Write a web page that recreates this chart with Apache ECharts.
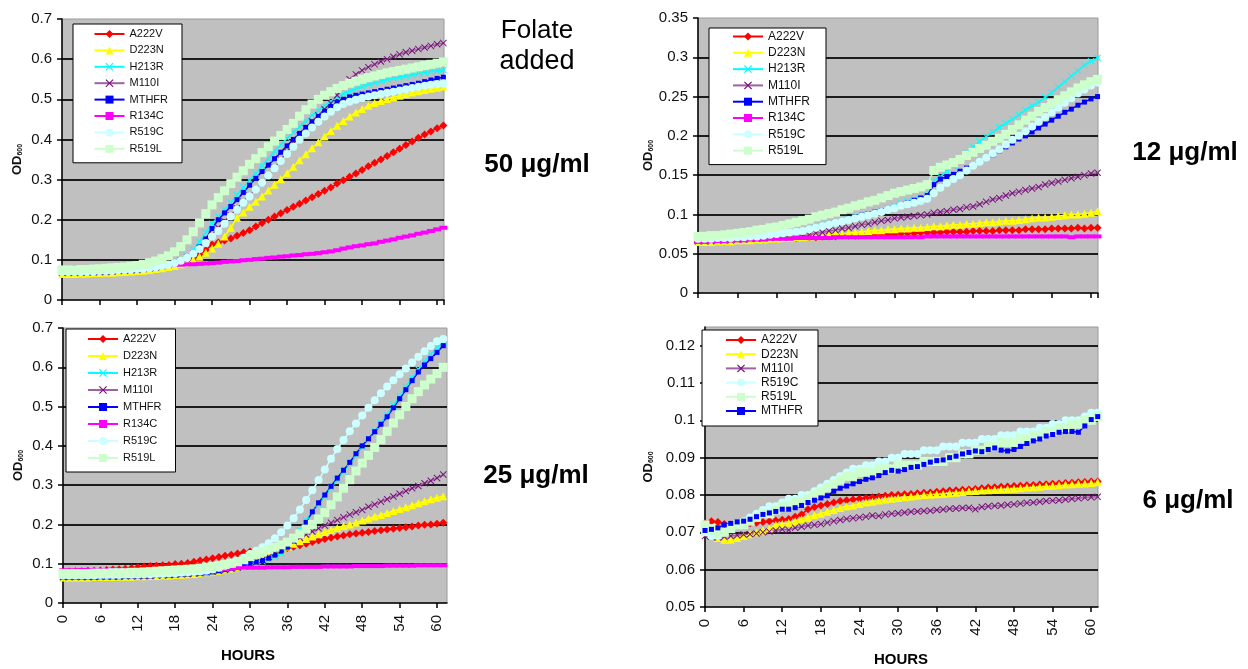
<!DOCTYPE html>
<html><head><meta charset="utf-8">
<script src="https://cdn.jsdelivr.net/npm/echarts@6/dist/echarts.min.js"></script>
<style>html,body{margin:0;padding:0;background:#fff;}#c{width:1248px;height:669px;}</style>
</head><body><div id="c"></div>
<script>
// ---------- DATA ----------
const hours = [0,1,2,3,4,5,6,7,8,9,10,11,12,13,14,15,16,17,18,19,20,21,22,23,24,25,26,27,28,29,30,31,32,33,34,35,36,37,38,39,40,41,42,43,44,45,46,47,48,49,50,51,52,53,54,55,56,57,58,59,60,61];
const namesMain = ['A222V','D223N','H213R','M110I','MTHFR','R134C','R519C','R519L'];
const names6 = ['A222V','D223N','M110I','R519C','R519L','MTHFR'];
const panelTitles = ['50 μg/ml','25 μg/ml','12 μg/ml','6 μg/ml'];

// 50 ug/ml (top left)
const tl_A222V = [0.070,0.070,0.070,0.071,0.071,0.072,0.072,0.073,0.074,0.075,0.076, 0.077,0.078,0.079,0.080,0.082,0.084,0.087,0.090,0.094,0.099, 0.105,0.113,0.124,0.138,0.143,0.148,0.153,0.160,0.167,0.174, 0.183,0.192,0.200,0.208,0.216,0.224,0.232,0.240,0.248,0.256, 0.264,0.272,0.280,0.290,0.298,0.307,0.315,0.324,0.333,0.342, 0.350,0.359,0.368,0.377,0.386,0.395,0.404,0.412,0.420,0.428,0.435];
const tl_D223N = [0.065,0.065,0.065,0.066,0.066,0.067,0.067,0.068,0.068,0.069,0.070, 0.071,0.072,0.073,0.075,0.077,0.079,0.082,0.085,0.089,0.094, 0.100,0.108,0.118,0.128,0.140,0.158,0.180,0.205,0.218,0.232, 0.245,0.258,0.273,0.287,0.301,0.316,0.332,0.348,0.363,0.378, 0.393,0.407,0.421,0.434,0.446,0.457,0.467,0.476,0.484,0.491, 0.496,0.501,0.505,0.509,0.513,0.517,0.520,0.523,0.526,0.529,0.532];
const tl_H213R = [0.068,0.068,0.068,0.069,0.069,0.070,0.070,0.071,0.072,0.073,0.074, 0.075,0.076,0.078,0.080,0.082,0.085,0.089,0.094,0.100,0.110, 0.125,0.145,0.168,0.190,0.208,0.225,0.243,0.262,0.280,0.298, 0.316,0.334,0.352,0.370,0.387,0.403,0.418,0.432,0.446,0.460, 0.472,0.484,0.495,0.505,0.513,0.520,0.526,0.532,0.537,0.541, 0.545,0.549,0.552,0.555,0.558,0.561,0.564,0.567,0.569,0.571,0.573];
const tl_M110I = [0.068,0.068,0.068,0.068,0.069,0.069,0.070,0.070,0.071,0.072,0.073, 0.074,0.075,0.077,0.079,0.081,0.084,0.088,0.093,0.099,0.106, 0.115,0.128,0.145,0.163,0.180,0.196,0.211,0.228,0.245,0.260, 0.276,0.292,0.310,0.330,0.350,0.370,0.390,0.410,0.428,0.445, 0.460,0.475,0.490,0.510,0.535,0.550,0.562,0.572,0.580,0.587, 0.594,0.600,0.606,0.612,0.617,0.621,0.625,0.629,0.633,0.637,0.640];
const tl_MTHFR = [0.068,0.068,0.068,0.068,0.069,0.069,0.070,0.070,0.071,0.072,0.073, 0.074,0.075,0.077,0.079,0.081,0.084,0.088,0.093,0.099,0.107, 0.117,0.132,0.152,0.178,0.200,0.217,0.233,0.250,0.268,0.286, 0.303,0.320,0.336,0.352,0.368,0.384,0.400,0.415,0.430,0.444, 0.457,0.470,0.482,0.492,0.500,0.506,0.510,0.513,0.516,0.519, 0.522,0.525,0.528,0.531,0.534,0.537,0.540,0.544,0.548,0.552,0.555];
const tl_R134C = [0.080,0.080,0.081,0.081,0.082,0.082,0.083,0.083,0.084,0.084,0.085, 0.085,0.085,0.086,0.086,0.086,0.087,0.087,0.088,0.088,0.089, 0.089,0.090,0.091,0.092,0.093,0.095,0.096,0.097,0.099,0.100, 0.102,0.103,0.105,0.106,0.108,0.109,0.111,0.112,0.114,0.115, 0.117,0.119,0.121,0.124,0.128,0.131,0.134,0.136,0.139,0.141, 0.145,0.148,0.151,0.155,0.158,0.161,0.165,0.168,0.172,0.176,0.180];
const tl_R519C = [0.070,0.070,0.070,0.070,0.071,0.071,0.072,0.072,0.073,0.074,0.075, 0.076,0.077,0.078,0.080,0.082,0.085,0.088,0.092,0.098,0.105, 0.115,0.127,0.142,0.158,0.172,0.190,0.208,0.225,0.242,0.258, 0.275,0.292,0.310,0.328,0.346,0.364,0.382,0.399,0.415,0.430, 0.444,0.457,0.469,0.480,0.488,0.494,0.499,0.503,0.507,0.510, 0.513,0.516,0.519,0.522,0.525,0.528,0.531,0.534,0.536,0.538,0.540];
const tl_R519L = [0.075,0.075,0.075,0.076,0.076,0.077,0.078,0.079,0.080,0.081,0.082, 0.084,0.086,0.089,0.093,0.097,0.103,0.110,0.120,0.133,0.150, 0.170,0.192,0.215,0.237,0.255,0.272,0.290,0.306,0.322,0.338, 0.352,0.367,0.382,0.396,0.410,0.425,0.440,0.458,0.474,0.488, 0.500,0.510,0.519,0.527,0.534,0.540,0.545,0.550,0.554,0.558, 0.562,0.566,0.569,0.572,0.575,0.578,0.581,0.584,0.587,0.590,0.593];

// 25 ug/ml (bottom left)
const bl_A222V = [0.080,0.080,0.081,0.081,0.082,0.082,0.083,0.084,0.085,0.086,0.087, 0.089,0.091,0.093,0.094,0.095,0.096,0.097,0.099,0.100,0.102, 0.105,0.108,0.111,0.114,0.117,0.120,0.123,0.126,0.129,0.131, 0.132,0.133,0.134,0.136,0.138,0.140,0.143,0.147,0.151,0.155, 0.159,0.163,0.166,0.169,0.172,0.175,0.177,0.179,0.181,0.183, 0.185,0.187,0.189,0.191,0.193,0.195,0.197,0.199,0.200,0.202,0.204];
const bl_D223N = [0.065,0.065,0.065,0.065,0.065,0.066,0.066,0.066,0.066,0.067,0.067, 0.067,0.068,0.068,0.069,0.069,0.070,0.070,0.071,0.072,0.073, 0.074,0.076,0.078,0.080,0.082,0.085,0.088,0.091,0.095,0.100, 0.106,0.113,0.120,0.128,0.136,0.144,0.151,0.157,0.163,0.169, 0.175,0.181,0.186,0.191,0.196,0.200,0.205,0.210,0.215,0.220, 0.224,0.229,0.234,0.239,0.244,0.249,0.254,0.259,0.264,0.268,0.272];
const bl_H213R = [0.066,0.066,0.066,0.066,0.066,0.066,0.067,0.067,0.067,0.067,0.068, 0.068,0.068,0.069,0.069,0.070,0.070,0.071,0.072,0.073,0.074, 0.075,0.076,0.078,0.080,0.082,0.084,0.087,0.090,0.094,0.098, 0.102,0.106,0.111,0.118,0.126,0.145,0.162,0.185,0.210,0.233, 0.252,0.272,0.293,0.314,0.335,0.356,0.377,0.398,0.418,0.438, 0.458,0.480,0.503,0.526,0.550,0.573,0.595,0.615,0.633,0.650,0.665];
const bl_M110I = [0.066,0.066,0.066,0.066,0.066,0.066,0.067,0.067,0.067,0.067,0.068, 0.068,0.068,0.069,0.069,0.070,0.070,0.071,0.072,0.073,0.074, 0.075,0.076,0.078,0.080,0.082,0.084,0.087,0.090,0.094,0.100, 0.105,0.110,0.118,0.127,0.137,0.147,0.157,0.166,0.174,0.182, 0.190,0.197,0.204,0.211,0.218,0.225,0.231,0.237,0.245,0.251, 0.258,0.264,0.271,0.278,0.285,0.292,0.298,0.305,0.311,0.318,0.327];
const bl_MTHFR = [0.066,0.066,0.066,0.066,0.066,0.066,0.067,0.067,0.067,0.067,0.068, 0.068,0.068,0.069,0.069,0.070,0.070,0.071,0.072,0.073,0.074, 0.075,0.076,0.077,0.079,0.082,0.085,0.089,0.093,0.097,0.101, 0.104,0.108,0.114,0.122,0.132,0.142,0.158,0.178,0.205,0.232, 0.255,0.275,0.297,0.318,0.338,0.358,0.380,0.400,0.418,0.436, 0.455,0.474,0.497,0.520,0.543,0.566,0.588,0.606,0.622,0.638,0.655];
const bl_R134C = [0.083,0.083,0.083,0.084,0.084,0.084,0.084,0.084,0.085,0.085,0.085, 0.085,0.085,0.085,0.085,0.085,0.085,0.085,0.085,0.085,0.085, 0.085,0.085,0.085,0.086,0.086,0.086,0.088,0.089,0.090,0.090, 0.090,0.090,0.091,0.091,0.091,0.091,0.092,0.092,0.092,0.092, 0.092,0.093,0.093,0.093,0.093,0.093,0.094,0.094,0.094,0.094, 0.094,0.095,0.095,0.095,0.095,0.095,0.096,0.096,0.096,0.096,0.096];
const bl_R519C = [0.070,0.070,0.070,0.070,0.070,0.070,0.071,0.071,0.071,0.071,0.072, 0.072,0.072,0.073,0.073,0.074,0.074,0.075,0.076,0.077,0.078, 0.079,0.080,0.082,0.085,0.090,0.095,0.100,0.107,0.115,0.125, 0.133,0.142,0.152,0.165,0.180,0.197,0.216,0.238,0.262,0.287, 0.313,0.340,0.367,0.392,0.415,0.437,0.457,0.477,0.497,0.516, 0.534,0.551,0.567,0.582,0.597,0.612,0.627,0.641,0.654,0.666,0.672];
const bl_R519L = [0.075,0.075,0.075,0.075,0.075,0.076,0.076,0.076,0.077,0.077,0.077, 0.078,0.078,0.079,0.080,0.081,0.082,0.083,0.084,0.085,0.086, 0.087,0.089,0.091,0.093,0.095,0.098,0.101,0.105,0.110,0.118, 0.124,0.130,0.136,0.142,0.148,0.155,0.165,0.176,0.188,0.200, 0.214,0.230,0.250,0.270,0.292,0.314,0.336,0.356,0.376,0.396, 0.416,0.437,0.458,0.479,0.500,0.520,0.538,0.555,0.570,0.584,0.600];

// 12 ug/ml (top right)
const tr_A222V = [0.065,0.065,0.066,0.066,0.066,0.067,0.067,0.067,0.068,0.068,0.068, 0.069,0.069,0.070,0.070,0.070,0.071,0.071,0.071,0.072,0.072, 0.072,0.073,0.073,0.073,0.074,0.074,0.074,0.075,0.075,0.075, 0.076,0.076,0.076,0.077,0.077,0.077,0.077,0.078,0.078,0.078, 0.078,0.079,0.079,0.079,0.079,0.080,0.080,0.080,0.080,0.081, 0.081,0.081,0.081,0.082,0.082,0.082,0.082,0.083,0.082,0.083,0.083];
const tr_D223N = [0.065,0.065,0.065,0.066,0.066,0.066,0.067,0.067,0.067,0.068,0.068, 0.069,0.069,0.070,0.070,0.071,0.071,0.072,0.073,0.073,0.074, 0.075,0.075,0.076,0.077,0.078,0.079,0.080,0.080,0.081,0.081, 0.082,0.082,0.083,0.083,0.084,0.085,0.085,0.086,0.087,0.087, 0.088,0.088,0.089,0.090,0.090,0.091,0.092,0.092,0.093,0.094, 0.095,0.096,0.096,0.097,0.098,0.099,0.100,0.100,0.101,0.102,0.104];
const tr_H213R = [0.070,0.070,0.070,0.070,0.071,0.071,0.071,0.072,0.072,0.073,0.073, 0.074,0.075,0.076,0.077,0.078,0.080,0.082,0.084,0.086,0.088, 0.090,0.092,0.094,0.096,0.098,0.100,0.102,0.105,0.108,0.111, 0.114,0.117,0.119,0.121,0.124,0.143,0.148,0.155,0.162,0.170, 0.178,0.186,0.193,0.199,0.205,0.211,0.216,0.221,0.227,0.233, 0.238,0.243,0.249,0.255,0.262,0.269,0.276,0.283,0.290,0.295,0.299];
const tr_M110I = [0.066,0.066,0.066,0.067,0.067,0.067,0.068,0.068,0.069,0.069,0.070, 0.070,0.071,0.071,0.072,0.073,0.073,0.074,0.076,0.077,0.079, 0.080,0.082,0.083,0.085,0.087,0.088,0.090,0.092,0.093,0.095, 0.096,0.097,0.098,0.099,0.100,0.102,0.103,0.104,0.106,0.107, 0.109,0.110,0.113,0.116,0.119,0.121,0.124,0.127,0.129,0.131, 0.133,0.135,0.138,0.140,0.142,0.144,0.146,0.148,0.150,0.152,0.153];
const tr_MTHFR = [0.068,0.068,0.068,0.069,0.069,0.069,0.070,0.070,0.071,0.071,0.072, 0.073,0.074,0.075,0.076,0.077,0.079,0.080,0.082,0.084,0.086, 0.088,0.091,0.094,0.097,0.099,0.101,0.103,0.105,0.107,0.109, 0.112,0.115,0.118,0.121,0.124,0.138,0.145,0.148,0.151,0.155, 0.159,0.163,0.167,0.171,0.176,0.181,0.186,0.191,0.196,0.200, 0.205,0.210,0.215,0.220,0.225,0.230,0.234,0.239,0.243,0.247,0.250];
const tr_R134C = [0.065,0.065,0.066,0.066,0.066,0.067,0.067,0.067,0.068,0.068,0.068, 0.069,0.069,0.069,0.069,0.070,0.070,0.070,0.070,0.070,0.070, 0.071,0.071,0.071,0.071,0.071,0.071,0.071,0.071,0.071,0.071, 0.071,0.071,0.071,0.071,0.072,0.072,0.072,0.072,0.072,0.072, 0.072,0.072,0.072,0.072,0.072,0.072,0.072,0.072,0.072,0.072, 0.072,0.072,0.072,0.072,0.072,0.072,0.071,0.072,0.072,0.072,0.072];
const tr_R519C = [0.069,0.069,0.069,0.070,0.070,0.070,0.071,0.071,0.072,0.072,0.073, 0.074,0.075,0.076,0.077,0.078,0.079,0.081,0.083,0.085,0.087, 0.089,0.091,0.093,0.095,0.097,0.099,0.101,0.103,0.106,0.108, 0.111,0.113,0.115,0.117,0.120,0.127,0.134,0.140,0.145,0.150, 0.156,0.162,0.167,0.172,0.178,0.183,0.189,0.195,0.200,0.206, 0.212,0.218,0.224,0.230,0.236,0.242,0.248,0.254,0.259,0.264,0.268];
const tr_R519L = [0.072,0.072,0.073,0.073,0.074,0.075,0.076,0.077,0.078,0.080,0.081, 0.083,0.084,0.086,0.088,0.090,0.092,0.094,0.097,0.099,0.101, 0.103,0.106,0.108,0.111,0.113,0.116,0.118,0.121,0.124,0.127, 0.129,0.131,0.133,0.135,0.138,0.156,0.160,0.163,0.166,0.170, 0.175,0.179,0.184,0.188,0.193,0.197,0.202,0.208,0.214,0.220, 0.225,0.231,0.236,0.241,0.246,0.251,0.256,0.261,0.265,0.269,0.272];

// 6 ug/ml (bottom right)
const br_A222V = [0.0725,0.0730,0.0728,0.0722,0.0720,0.0720,0.0722,0.0724,0.0726,0.0728,0.0730, 0.0732,0.0734,0.0736,0.0742,0.0748,0.0762,0.0768,0.0772,0.0776,0.0780, 0.0784,0.0786,0.0788,0.0790,0.0792,0.0794,0.0796,0.0798,0.0800,0.0801, 0.0802,0.0803,0.0805,0.0806,0.0807,0.0809,0.0810,0.0812,0.0813,0.0814, 0.0815,0.0816,0.0818,0.0820,0.0821,0.0822,0.0823,0.0824,0.0825,0.0826, 0.0827,0.0828,0.0829,0.0830,0.0831,0.0832,0.0833,0.0834,0.0835,0.0836,0.0836];
const br_D223N = [0.0700,0.0690,0.0685,0.0680,0.0680,0.0685,0.0690,0.0695,0.0700,0.0705,0.0710, 0.0720,0.0722,0.0726,0.0730,0.0735,0.0740,0.0746,0.0750,0.0755,0.0760, 0.0765,0.0770,0.0772,0.0776,0.0780,0.0782,0.0785,0.0788,0.0790,0.0792, 0.0794,0.0796,0.0798,0.0800,0.0801,0.0802,0.0803,0.0805,0.0806,0.0808, 0.0810,0.0811,0.0812,0.0813,0.0814,0.0815,0.0816,0.0817,0.0818,0.0820, 0.0821,0.0822,0.0824,0.0825,0.0826,0.0828,0.0829,0.0830,0.0831,0.0832,0.0834];
const br_M110I = [0.0690,0.0688,0.0686,0.0688,0.0690,0.0692,0.0694,0.0695,0.0697,0.0700,0.0702, 0.0705,0.0708,0.0706,0.0712,0.0715,0.0718,0.0720,0.0722,0.0726,0.0730, 0.0733,0.0736,0.0738,0.0740,0.0742,0.0745,0.0744,0.0748,0.0750,0.0751, 0.0753,0.0755,0.0756,0.0757,0.0758,0.0760,0.0761,0.0763,0.0764,0.0765, 0.0766,0.0762,0.0768,0.0770,0.0771,0.0772,0.0774,0.0775,0.0777,0.0779, 0.0780,0.0782,0.0784,0.0785,0.0786,0.0788,0.0790,0.0791,0.0793,0.0794,0.0795];
const br_R519C = [0.0700,0.0690,0.0690,0.0700,0.0710,0.0720,0.0730,0.0740,0.0750,0.0760,0.0770, 0.0770,0.0780,0.0790,0.0790,0.0800,0.0800,0.0810,0.0820,0.0830,0.0840, 0.0850,0.0860,0.0870,0.0870,0.0880,0.0880,0.0890,0.0890,0.0900,0.0900, 0.0910,0.0910,0.0910,0.0920,0.0920,0.0920,0.0930,0.0930,0.0930,0.0940, 0.0940,0.0940,0.0950,0.0950,0.0950,0.0960,0.0960,0.0960,0.0970,0.0970, 0.0970,0.0980,0.0980,0.0990,0.0990,0.1000,0.1000,0.1000,0.1010,0.1020,0.1020];
const br_R519L = [0.0720,0.0710,0.0700,0.0700,0.0710,0.0720,0.0720,0.0730,0.0740,0.0750,0.0750, 0.0760,0.0770,0.0770,0.0780,0.0780,0.0790,0.0800,0.0810,0.0820,0.0830, 0.0840,0.0850,0.0850,0.0860,0.0860,0.0860,0.0870,0.0870,0.0870,0.0880, 0.0880,0.0880,0.0880,0.0890,0.0890,0.0890,0.0890,0.0900,0.0900,0.0910, 0.0910,0.0920,0.0920,0.0930,0.0930,0.0940,0.0940,0.0940,0.0950,0.0950, 0.0960,0.0960,0.0970,0.0970,0.0980,0.0980,0.0990,0.0990,0.1000,0.1000,0.1010];
const br_MTHFR = [0.0705,0.0708,0.0712,0.0720,0.0724,0.0728,0.0730,0.0735,0.0742,0.0748,0.0752, 0.0756,0.0762,0.0762,0.0766,0.0772,0.0780,0.0786,0.0792,0.0798,0.0810, 0.0818,0.0824,0.0830,0.0836,0.0842,0.0846,0.0852,0.0860,0.0866,0.0864, 0.0868,0.0874,0.0876,0.0882,0.0888,0.0892,0.0894,0.0900,0.0904,0.0910, 0.0914,0.0918,0.0916,0.0922,0.0926,0.0920,0.0918,0.0922,0.0930,0.0938, 0.0945,0.0950,0.0958,0.0962,0.0968,0.0970,0.0970,0.0968,0.0985,0.1002,0.1010];

// ---------- STYLE ----------
const X_PATH = 'path://M0,1L1,0L5,4L9,0L10,1L6,5L10,9L9,10L5,6L1,10L0,9L4,5Z';
const styles = {
  A222V: {color:'#ff0000', line:'#ff0000', symbol:'diamond', size:8},
  D223N: {color:'#ffff00', line:'#ffff00', symbol:'triangle', size:8},
  H213R: {color:'#00ffff', line:'#00ffff', symbol:X_PATH, size:7},
  M110I: {color:'#7a107a', line:'#a060a8', symbol:X_PATH, size:7},
  MTHFR: {color:'#0000ff', line:'#0000ff', symbol:'rect', size:5},
  R134C: {color:'#ff00ff', line:'#ff00ff', symbol:'rect', size:[8,4]},
  R519C: {color:'#ccffff', line:'#ccffff', symbol:'circle', size:8},
  R519L: {color:'#ccffcc', line:'#ccffcc', symbol:'rect', size:9}
};

const panels = [
  {grid:{left:62, top:19, width:382, height:281}, xmax:61.1, ymin:0, ymax:0.7, yint:0.1, showX:false, nameGap:38,
   names:namesMain, data:{A222V:tl_A222V,D223N:tl_D223N,H213R:tl_H213R,M110I:tl_M110I,MTHFR:tl_MTHFR,R134C:tl_R134C,R519C:tl_R519C,R519L:tl_R519L},
   legend:{left:73, top:24, padding:[4,14,8,20.5], itemGap:4.4, fontSize:11}},
  {grid:{left:63, top:328, width:384, height:275}, xmax:61.6, ymin:0, ymax:0.7, yint:0.1, showX:true, nameGap:38,
   names:namesMain, data:{A222V:bl_A222V,D223N:bl_D223N,H213R:bl_H213R,M110I:bl_M110I,MTHFR:bl_MTHFR,R134C:bl_R134C,R519C:bl_R519C,R519L:bl_R519L},
   legend:{left:66, top:329, padding:[4,14,8,21], itemGap:5, fontSize:11}},
  {grid:{left:698, top:18, width:400, height:275}, xmax:61.07, ymin:0, ymax:0.35, yint:0.05, showX:false, nameGap:43,
   names:namesMain, data:{A222V:tr_A222V,D223N:tr_D223N,H213R:tr_H213R,M110I:tr_M110I,MTHFR:tr_MTHFR,R134C:tr_R134C,R519C:tr_R519C,R519L:tr_R519L},
   legend:{left:709, top:28, padding:[2.5,16,8,23], itemGap:4.3, fontSize:12}},
  {grid:{left:705, top:327, width:393, height:280}, xmax:61.05, ymin:0.05, ymax:0.125, yint:0.01, showX:true, nameGap:50,
   names:names6, data:{A222V:br_A222V,D223N:br_D223N,M110I:br_M110I,R519C:br_R519C,R519L:br_R519L,MTHFR:br_MTHFR},
   legend:{left:702, top:330, padding:[4,15,9,23], itemGap:2.2, fontSize:12}}
];

const FONT = 'Liberation Sans, Arial, sans-serif';
const grids = [], xAxes = [], yAxes = [], series = [], legends = [];
panels.forEach((p, i) => {
  grids.push(Object.assign({show:true, backgroundColor:'#c0c0c0', borderColor:'#9a9a9a', borderWidth:1}, p.grid));
  xAxes.push({type:'value', gridIndex:i, min:0, max:p.xmax, interval:6,
    axisLine:{lineStyle:{color:'#000', width:1.5}},
    axisTick:{show:true, length:5, lineStyle:{color:'#000', width:1.5}},
    splitLine:{show:false},
    axisLabel:{show:p.showX, rotate:90, margin:12, fontSize:15, color:'#111', fontFamily:FONT, showMaxLabel:false}
  });
  yAxes.push({type:'value', gridIndex:i, min:p.ymin, max:p.ymax, interval:p.yint,
    axisLine:{show:true, lineStyle:{color:'#000', width:1.5}},
    axisTick:{show:true, length:5, lineStyle:{color:'#000', width:1.5}},
    splitLine:{show:true, showMinLine:false, showMaxLine:false, lineStyle:{color:'#1c1c1c', width:2}},
    axisLabel:{margin:10, fontSize:15, color:'#111', fontFamily:FONT, showMaxLabel: p.ymax === 0.125 ? false : true},
    name:'{a|OD}{b|600}', nameLocation:'middle', nameRotate:90, nameGap:p.nameGap,
    nameTextStyle:{rich:{a:{fontSize:13, fontWeight:'bold', fontFamily:FONT, color:'#111', lineHeight:16, verticalAlign:'bottom'},
                          b:{fontSize:7, fontWeight:'bold', fontFamily:FONT, color:'#111', lineHeight:16, verticalAlign:'bottom'}}}
  });
  p.names.forEach(n => {
    const s = styles[n];
    series.push({type:'line', name:n, xAxisIndex:i, yAxisIndex:i,
      data: hours.map((h, k) => [h, p.data[n][k]]),
      symbol:s.symbol, symbolSize:s.size, showAllSymbol:true,
      itemStyle:{color:s.color},
      lineStyle:{color:s.line, width:1.5},
      emphasis:{disabled:true}, silent:true
    });
  });
  legends.push({show:true, orient:'vertical', left:p.legend.left, top:p.legend.top, padding:p.legend.padding,
    itemGap:p.legend.itemGap, itemWidth:30, itemHeight:10, data:p.names, selectedMode:false,
    backgroundColor:'#fff', borderColor:'#000', borderWidth:1,
    textStyle:{fontSize:p.legend.fontSize, lineHeight:12, color:'#111', fontFamily:FONT}});
});

const txt = (x, y, t, size, weight) => ({type:'text', x:x, y:y, silent:true,
  style:{text:t, fill:'#000', font:(weight||'normal') + ' ' + size + 'px ' + FONT, align:'center', verticalAlign:'middle'}});

const chart = echarts.init(document.getElementById('c'), null, {renderer:'canvas'});
chart.setOption({
  animation:false,
  backgroundColor:'#fff',
  grid:grids, xAxis:xAxes, yAxis:yAxes, series:series, legend:legends,
  graphic:[
    txt(537, 31, 'Folate', 26),
    txt(537, 62, 'added', 27),
    txt(537, 165, panelTitles[0], 26, 'bold'),
    txt(536, 476, panelTitles[1], 26, 'bold'),
    txt(1185, 153, panelTitles[2], 26, 'bold'),
    txt(1188, 501, panelTitles[3], 26, 'bold'),
    txt(248, 656, 'HOURS', 15, 'bold'),
    txt(901, 660, 'HOURS', 15, 'bold')
  ]
});
</script></body></html>
